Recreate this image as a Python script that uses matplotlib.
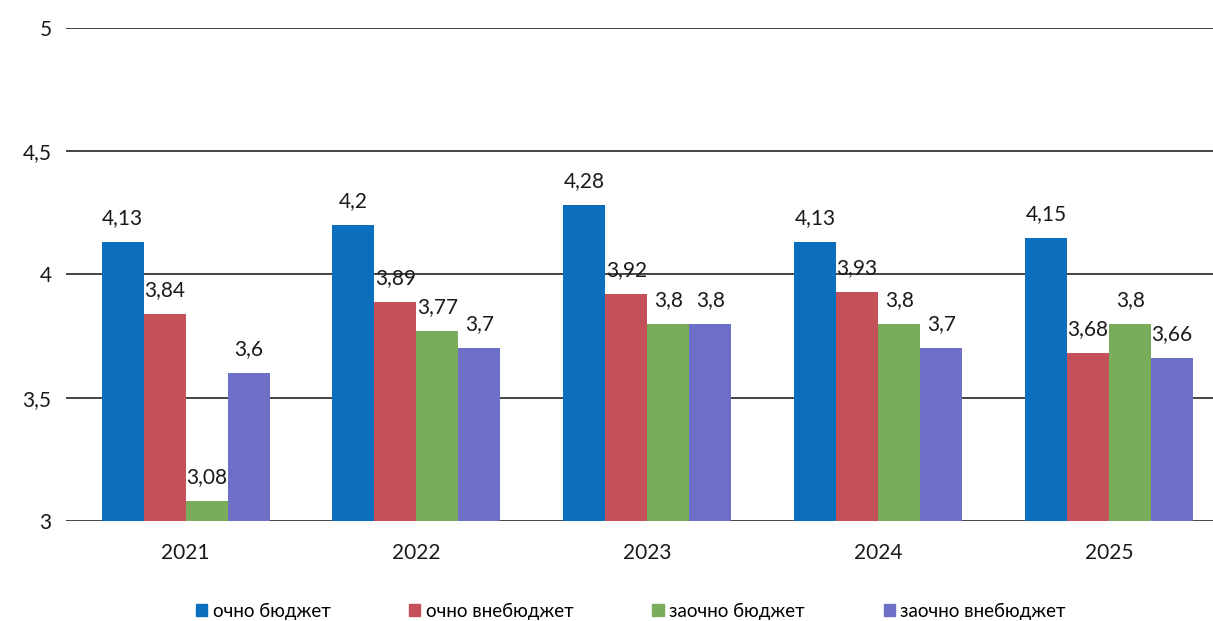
import numpy as np
import matplotlib.pyplot as plt
from matplotlib.patches import Patch

years = ['2021', '2022', '2023', '2024', '2025']
ochno_budget = [4.13, 4.2, 4.28, 4.13, 4.15]
ochno_vnebudget = [3.84, 3.89, 3.92, 3.93, 3.68]
zaochno_budget = [3.08, 3.77, 3.8, 3.8, 3.8]
zaochno_vnebudget = [3.6, 3.7, 3.8, 3.7, 3.66]

series_names = ['очно бюджет', 'очно внебюджет', 'заочно бюджет', 'заочно внебюджет']
colors = ['#0b6fbe', '#c4505a', '#79ad5b', '#6e6fc6']

plt.rcParams['font.family'] = ['Lato', 'DejaVu Sans']

fig = plt.figure(figsize=(12.13, 6.21), dpi=100)
ax = fig.add_axes([0.054, 0.161, 0.946, 0.794])

x = np.arange(len(years))
w = 0.182
data = [ochno_budget, ochno_vnebudget, zaochno_budget, zaochno_vnebudget]
for i, (vals, c) in enumerate(zip(data, colors)):
    pos = x + (i - 1.5) * w
    ax.bar(pos, [v - 3 for v in vals], w, bottom=3, color=c, zorder=3)
    for px, v in zip(pos, vals):
        ax.annotate(f'{v:g}'.replace('.', ','), (px, v), xytext=(0, 10),
                    textcoords='offset points', ha='center', va='bottom',
                    fontsize=15, color='#1a1a1a', zorder=4)

ax.set_ylim(3, 5)
ax.set_xlim(-0.52, 4.45)
ax.set_yticks([3, 3.5, 4, 4.5, 5])
ax.set_yticklabels(['3', '3,5', '4', '4,5', '5'])
ax.set_xticks(x)
ax.set_xticklabels(years)
ax.tick_params(length=0, labelsize=15, colors='#1a1a1a')
ax.tick_params(axis='y', pad=10)
ax.tick_params(axis='x', pad=16)
ax.yaxis.grid(True, color='#444444', linewidth=1.4, zorder=1)
for s in ax.spines.values():
    s.set_visible(False)

handles = [Patch(color=c) for c in colors]
fig.legend(handles, series_names, loc='lower center', ncol=4, frameon=False,
           fontsize=13.5, handlelength=0.6, handleheight=0.6, handletextpad=0.3,
           columnspacing=4.2, bbox_to_anchor=(0.52, -0.025))

fig.savefig('out.png', dpi=100)
